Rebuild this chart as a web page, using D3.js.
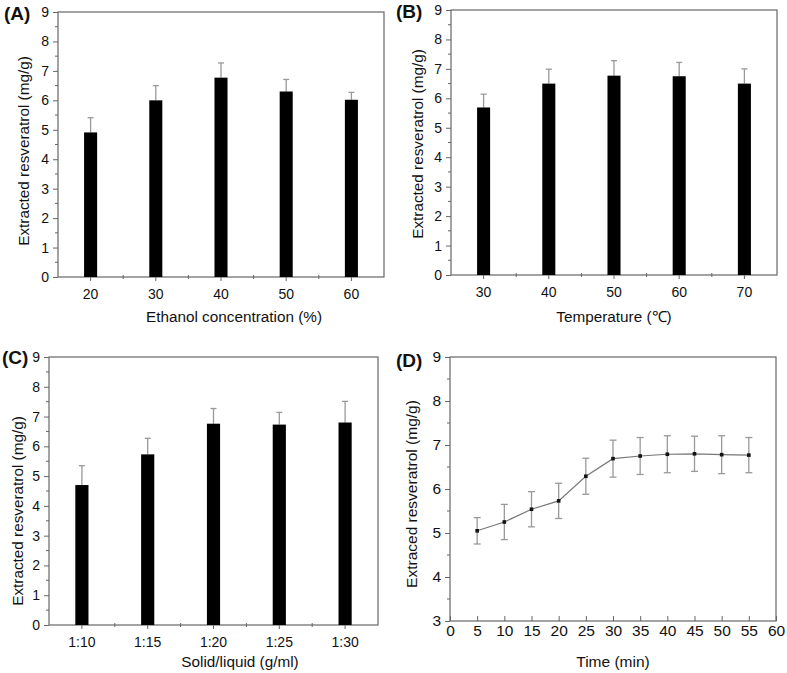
<!DOCTYPE html>
<html>
<head>
<meta charset="utf-8">
<script src="https://cdn.jsdelivr.net/npm/d3@7"></script>
<style>
  body { margin: 0; background: #fff; }
  svg text { font-family: "Liberation Sans", Arial, sans-serif; fill: #111; }
</style>
</head>
<body>
<svg id="chart" width="787" height="673"></svg>
<script>
// ---- Data ----
const ethanolCats = ["20", "30", "40", "50", "60"];
const ethanolVals = [4.91, 6.0, 6.77, 6.3, 6.02];
const ethanolErr  = [0.5, 0.5, 0.5, 0.41, 0.25];

const tempCats = ["30", "40", "50", "60", "70"];
const tempVals = [5.69, 6.5, 6.77, 6.75, 6.5];
const tempErr  = [0.45, 0.49, 0.51, 0.47, 0.5];

const ratioCats = ["1:10", "1:15", "1:20", "1:25", "1:30"];
const ratioVals = [4.7, 5.73, 6.76, 6.73, 6.8];
const ratioErr  = [0.65, 0.54, 0.51, 0.41, 0.71];

const timeVals = [5, 10, 15, 20, 25, 30, 35, 40, 45, 50, 55];
const timeMeans = [5.05, 5.25, 5.54, 5.73, 6.29, 6.69, 6.75, 6.79, 6.80, 6.78, 6.77];
const timeErr = [0.30, 0.40, 0.40, 0.40, 0.41, 0.42, 0.42, 0.42, 0.40, 0.43, 0.40];

const barTicks = [0, 1, 2, 3, 4, 5, 6, 7, 8, 9];
const timeYTicks = [3, 4, 5, 6, 7, 8, 9];
const timeXTicks = [0, 5, 10, 15, 20, 25, 30, 35, 40, 45, 50, 55, 60];

const svg = d3.select("#chart");
const frameColor = "#666";
const errColor = "#999";

function barPanel(cfg) {
  const g = svg.append("g");
  const x = d3.scaleBand().domain(cfg.cats).range([cfg.left, cfg.right])
    .paddingInner(0.8).paddingOuter(0.4);
  const y = d3.scaleLinear().domain([0, 9]).range([cfg.bottom, cfg.top]);

  g.append("rect").attr("x", cfg.left).attr("y", cfg.top)
    .attr("width", cfg.right - cfg.left).attr("height", cfg.bottom - cfg.top)
    .attr("fill", "none").attr("stroke", frameColor).attr("stroke-width", 1.2);

  const data = cfg.cats.map((c, i) => ({ c, v: cfg.vals[i], e: cfg.errs[i] }));
  const cx = d => x(d.c) + x.bandwidth() / 2;
  g.selectAll(".err").data(data).enter().append("line")
    .attr("x1", cx).attr("x2", cx)
    .attr("y1", d => y(d.v)).attr("y2", d => y(d.v + d.e))
    .attr("stroke", errColor).attr("stroke-width", 1.3);
  g.selectAll(".cap").data(data).enter().append("line")
    .attr("x1", d => cx(d) - 3).attr("x2", d => cx(d) + 3)
    .attr("y1", d => y(d.v + d.e)).attr("y2", d => y(d.v + d.e))
    .attr("stroke", errColor).attr("stroke-width", 1.3);
  g.selectAll(".bar").data(data).enter().append("rect")
    .attr("x", d => x(d.c)).attr("width", x.bandwidth())
    .attr("y", d => y(d.v)).attr("height", d => y(0) - y(d.v))
    .attr("fill", "#000");

  const ya = g.append("g").attr("transform", `translate(${cfg.left},0)`)
    .call(d3.axisLeft(y).tickValues(barTicks).tickSize(5).tickPadding(4).tickFormat(d3.format("d")));
  ya.select(".domain").remove();
  ya.selectAll("line").attr("stroke", frameColor);
  ya.selectAll("text").style("font-size", "14px");
  const minors = d3.range(0.5, 9, 1);
  g.selectAll(".ymin").data(minors).enter().append("line")
    .attr("x1", cfg.left - 3).attr("x2", cfg.left)
    .attr("y1", d => y(d)).attr("y2", d => y(d))
    .attr("stroke", frameColor);

  const xa = g.append("g").attr("transform", `translate(0,${cfg.bottom})`)
    .call(d3.axisBottom(x).tickSize(4).tickPadding(8));
  xa.select(".domain").remove();
  xa.selectAll("line").attr("stroke", frameColor);
  xa.selectAll("text").style("font-size", "14px");
  const step = x.step();
  const bpos = d3.range(1, cfg.cats.length).map(i => x(cfg.cats[0]) + x.bandwidth() / 2 + (i - 0.5) * step);
  g.selectAll(".xmin").data(bpos).enter().append("line")
    .attr("x1", d => d).attr("x2", d => d)
    .attr("y1", cfg.bottom - 2).attr("y2", cfg.bottom + 2)
    .attr("stroke", frameColor);

  g.append("text").attr("x", cfg.xTitleX).attr("y", cfg.xTitleY)
    .attr("text-anchor", "middle").style("font-size", "15.3px").text(cfg.xTitle);
  g.append("text").attr("transform", `translate(${cfg.yTitleX},${cfg.yTitleY}) rotate(-90)`)
    .attr("text-anchor", "middle").style("font-size", "15.3px").text(cfg.yTitle);
  g.append("text").attr("x", cfg.labelX).attr("y", cfg.labelY)
    .style("font-size", "19px").style("font-weight", "bold").text(cfg.label);
}

barPanel({
  cats: ethanolCats, vals: ethanolVals, errs: ethanolErr,
  left: 58, right: 384, top: 12, bottom: 277,
  xTitle: "Ethanol concentration (%)", xTitleX: 234, xTitleY: 322,
  yTitle: "Extracted resveratrol (mg/g)", yTitleX: 29, yTitleY: 151,
  label: "(A)", labelX: 4, labelY: 20
});

barPanel({
  cats: tempCats, vals: tempVals, errs: tempErr,
  left: 451, right: 777, top: 10, bottom: 275,
  xTitle: "Temperature (\u2103)", xTitleX: 614, xTitleY: 322,
  yTitle: "Extracted resveratrol (mg/g)", yTitleX: 423, yTitleY: 144,
  label: "(B)", labelX: 396, labelY: 18
});

barPanel({
  cats: ratioCats, vals: ratioVals, errs: ratioErr,
  left: 49, right: 378, top: 357, bottom: 625,
  xTitle: "Solid/liquid (g/ml)", xTitleX: 240, xTitleY: 667,
  yTitle: "Extracted resveratrol (mg/g)", yTitleX: 23, yTitleY: 511,
  label: "(C)", labelX: 2, labelY: 364
});

// ---- Panel D ----
(function () {
  const left = 450, right = 776, top = 357, bottom = 621;
  const g = svg.append("g");
  const x = d3.scaleLinear().domain([0, 60]).range([left, right]);
  const y = d3.scaleLinear().domain([3, 9]).range([bottom, top]);

  g.append("rect").attr("x", left).attr("y", top)
    .attr("width", right - left).attr("height", bottom - top)
    .attr("fill", "none").attr("stroke", frameColor).attr("stroke-width", 1.2);

  const data = timeVals.map((t, i) => ({ t, m: timeMeans[i], e: timeErr[i] }));

  g.selectAll(".err").data(data).enter().append("line")
    .attr("x1", d => x(d.t)).attr("x2", d => x(d.t))
    .attr("y1", d => y(d.m - d.e)).attr("y2", d => y(d.m + d.e))
    .attr("stroke", errColor).attr("stroke-width", 1.3);
  [1, -1].forEach(s => {
    g.selectAll(".cap" + s).data(data).enter().append("line")
      .attr("x1", d => x(d.t) - 3.5).attr("x2", d => x(d.t) + 3.5)
      .attr("y1", d => y(d.m + s * d.e)).attr("y2", d => y(d.m + s * d.e))
      .attr("stroke", errColor).attr("stroke-width", 1.3);
  });

  g.append("path").datum(data)
    .attr("d", d3.line().x(d => x(d.t)).y(d => y(d.m)))
    .attr("fill", "none").attr("stroke", "#777").attr("stroke-width", 1.2);

  g.selectAll(".pt").data(data).enter().append("rect")
    .attr("x", d => x(d.t) - 1.8).attr("y", d => y(d.m) - 1.8)
    .attr("width", 3.6).attr("height", 3.6).attr("fill", "#111");

  const ya = g.append("g").attr("transform", `translate(${left},0)`)
    .call(d3.axisLeft(y).tickValues(timeYTicks).tickSize(5).tickPadding(4).tickFormat(d3.format("d")));
  ya.select(".domain").remove();
  ya.selectAll("line").attr("stroke", frameColor);
  ya.selectAll("text").style("font-size", "15.5px");
  g.selectAll(".ymin").data(d3.range(3.5, 9, 1)).enter().append("line")
    .attr("x1", left - 3).attr("x2", left)
    .attr("y1", d => y(d)).attr("y2", d => y(d)).attr("stroke", frameColor);

  const xa = g.append("g").attr("transform", `translate(0,${bottom})`)
    .call(d3.axisBottom(x).tickValues(timeXTicks).tickSize(-5).tickPadding(4).tickFormat(d3.format("d")));
  xa.select(".domain").remove();
  xa.selectAll("line").attr("stroke", frameColor);
  xa.selectAll("text").style("font-size", "15.5px");

  g.append("text").attr("x", 613).attr("y", 667)
    .attr("text-anchor", "middle").style("font-size", "15.5px").text("Time (min)");
  g.append("text").attr("transform", `translate(417,494) rotate(-90)`)
    .attr("text-anchor", "middle").style("font-size", "15.5px").text("Extraced resveratrol (mg/g)");
  g.append("text").attr("x", 396).attr("y", 367)
    .style("font-size", "19px").style("font-weight", "bold").text("(D)");
})();
</script>
</body>
</html>
